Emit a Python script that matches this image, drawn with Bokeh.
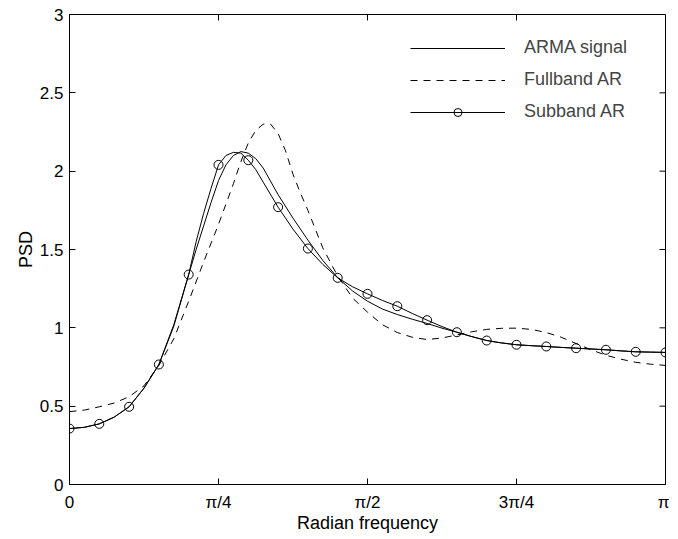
import numpy as np
from bokeh.plotting import figure
from bokeh.models import FixedTicker, Legend, LegendItem, Range1d
from bokeh.embed import file_html
from bokeh.resources import INLINE

# ---- data (frequency given in units of pi/40) ----
x_tick_k = [0, 10, 20, 30, 40]
x_tick_labels = ["0", "π/4", "π/2", "3π/4", "π"]
y_ticks = [0, 0.5, 1, 1.5, 2, 2.5, 3]
y_tick_labels = ["0", "0.5", "1", "1.5", "2", "2.5", "3"]

arma_k = [0, 1, 2, 3, 4, 5, 6, 7, 8, 8.5, 9, 9.5, 10, 10.5, 11, 11.5, 12, 12.5, 13,
          14, 15, 16, 17, 18, 19, 20, 21, 22, 23, 24, 25, 26, 27, 28, 29, 30,
          31, 32, 33, 34, 35, 36, 37, 38, 39, 40]
arma_psd = [0.357, 0.365, 0.387, 0.43, 0.496, 0.615, 0.766, 1.01, 1.34, 1.50, 1.65, 1.80,
            1.94, 2.04, 2.10, 2.125, 2.115, 2.08, 2.02,
            1.85, 1.70, 1.56, 1.43, 1.32, 1.235, 1.17, 1.12, 1.085, 1.055, 1.028, 0.998,
            0.972, 0.944, 0.919, 0.903, 0.892,
            0.886, 0.881, 0.875, 0.870, 0.865, 0.860, 0.853, 0.847, 0.845, 0.843]

full_k = [0, 1, 2, 3, 4, 5, 6, 7, 8, 9, 10, 10.5, 11, 11.5, 12, 12.5, 13, 13.5, 14,
          14.5, 15, 15.5, 16, 17, 18, 19, 20, 21, 22, 23, 24, 25, 26, 27, 28, 29, 30,
          31, 32, 33, 34, 35, 36, 37, 38, 39, 40]
full_psd = [0.465, 0.475, 0.496, 0.52, 0.56, 0.63, 0.76, 0.93, 1.17, 1.42, 1.66, 1.79,
            1.92, 2.06, 2.18, 2.26, 2.30, 2.30, 2.24,
            2.13, 1.98, 1.86, 1.75, 1.51, 1.33, 1.19, 1.10, 1.02, 0.97, 0.94, 0.925,
            0.935, 0.955, 0.975, 0.99, 0.997, 0.998,
            0.99, 0.97, 0.94, 0.90, 0.86, 0.825, 0.80, 0.78, 0.768, 0.76]

sub_k = [0, 1, 2, 3, 4, 5, 6, 7, 8, 8.5, 9, 9.5, 10, 10.5, 11, 11.5, 12, 12.5, 13,
         14, 15, 16, 17, 18, 19, 20, 21, 22, 23, 24, 25, 26, 27, 28, 29, 30,
         31, 32, 33, 34, 35, 36, 37, 38, 39, 40]
sub_psd = [0.357, 0.365, 0.387, 0.43, 0.496, 0.615, 0.766, 1.02, 1.34, 1.55, 1.73, 1.89,
           2.04, 2.10, 2.12, 2.115, 2.07, 2.01, 1.93,
           1.77, 1.63, 1.506, 1.405, 1.319, 1.262, 1.217, 1.175, 1.138, 1.092, 1.049, 1.008,
           0.972, 0.944, 0.919, 0.904, 0.892,
           0.886, 0.881, 0.875, 0.870, 0.865, 0.860, 0.853, 0.847, 0.845, 0.843]

marker_k = [0, 2, 4, 6, 8, 10, 12, 14, 16, 18, 20, 22, 24, 26, 28, 30, 32, 34, 36, 38, 40]
marker_psd = [0.357, 0.387, 0.496, 0.766, 1.34, 2.04, 2.07, 1.77, 1.506, 1.319, 1.217,
              1.138, 1.049, 0.972, 0.919, 0.892, 0.881, 0.870, 0.860, 0.847, 0.843]

unit = np.pi / 40
to_x = lambda ks: [k * unit for k in ks]

FONT = "Liberation Sans"
X_MAX, Y_MAX = np.pi, 3

p = figure(frame_width=596, frame_height=470, output_backend="svg", toolbar_location=None,
           x_range=Range1d(0, X_MAX), y_range=Range1d(0, Y_MAX),
           min_border_left=69, min_border_right=4, min_border_top=14, min_border_bottom=40,
           background_fill_color="white", border_fill_color="white")
p.xgrid.visible = False
p.ygrid.visible = False
p.outline_line_color = "black"
p.outline_line_width = 1

xt = to_x(x_tick_k)
x_over = {xv: lab for xv, lab in zip(xt, x_tick_labels)}
y_over = {yv: lab for yv, lab in zip(y_ticks, y_tick_labels)}

for ax in p.xaxis:
    ax.ticker = FixedTicker(ticks=xt)
    ax.major_label_overrides = x_over
for ax in p.yaxis:
    ax.ticker = FixedTicker(ticks=y_ticks)
    ax.major_label_overrides = y_over

for ax in list(p.xaxis) + list(p.yaxis):
    ax.major_tick_in = 6
    ax.major_tick_out = 0
    ax.minor_tick_line_color = None
    ax.axis_line_color = "black"
    ax.major_tick_line_color = "black"
    ax.major_label_text_font = FONT
    ax.major_label_text_font_size = "17px"
    ax.major_label_text_color = "black"
    ax.axis_label_text_font = FONT
    ax.axis_label_text_font_size = "18px"
    ax.axis_label_text_font_style = "normal"
    ax.axis_label_text_color = "black"

p.xaxis.axis_label = "Radian frequency"
p.yaxis.axis_label = "PSD"
p.xaxis.major_label_standoff = 8
p.yaxis.major_label_standoff = 6
p.xaxis.axis_label_standoff = -2
p.yaxis.axis_label_standoff = 1

# mirror ticks on the top and right edges of the box
p.ray(x=xt, y=[Y_MAX] * len(xt), length=6, length_units="screen",
      angle=-np.pi / 2, line_color="black", line_width=1)
p.ray(x=[X_MAX] * len(y_ticks), y=y_ticks, length=6, length_units="screen",
      angle=np.pi, line_color="black", line_width=1)

r_arma = p.line(to_x(arma_k), arma_psd, line_color="black", line_width=1)
r_full = p.line(to_x(full_k), full_psd, line_color="black", line_width=1, line_dash="7 6")
r_sub = p.line(to_x(sub_k), sub_psd, line_color="black", line_width=1)
r_mark = p.scatter(to_x(marker_k), marker_psd, marker="circle", size=9,
                   fill_color=None, line_color="black", line_width=1)

legend = Legend(items=[LegendItem(label="ARMA signal", renderers=[r_arma]),
                       LegendItem(label="Fullband AR", renderers=[r_full]),
                       LegendItem(label="Subband AR", renderers=[r_sub, r_mark])],
                location=(331, 352), glyph_width=95, glyph_height=20, label_height=20,
                label_standoff=19, spacing=11, padding=10, margin=0,
                label_text_font=FONT, label_text_font_size="18px",
                background_fill_alpha=0, border_line_alpha=0)
p.add_layout(legend)

open("out.html", "w").write(file_html(p, INLINE))
